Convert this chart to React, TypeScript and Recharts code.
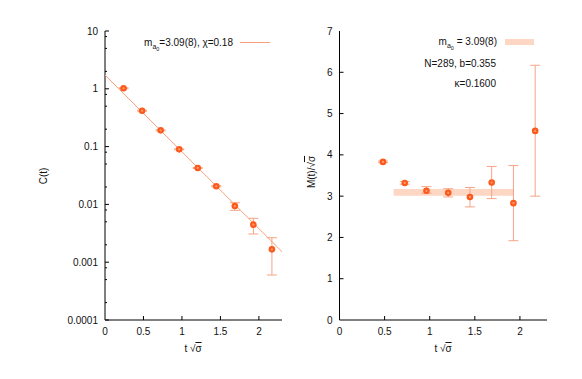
import React from "react";
import { ComposedChart, Scatter, XAxis, YAxis, ErrorBar, ReferenceArea } from "recharts";

const FONT = "'Liberation Sans', Arial, Helvetica, sans-serif";

// Left panel: correlator C(t)
const tValues = [0.241, 0.482, 0.723, 0.964, 1.205, 1.446, 1.687, 1.928, 2.169];
const cValues = [1.02, 0.418, 0.191, 0.0897, 0.0427, 0.0206, 0.00937, 0.00446, 0.00167];
const cLow = [1.0, 0.41, 0.187, 0.088, 0.0418, 0.0201, 0.0079, 0.00308, 0.0006];
const cHigh = [1.04, 0.426, 0.195, 0.0914, 0.0436, 0.0211, 0.0107, 0.00574, 0.00265];
const fitT = [0, 2.3];
const fitC = [1.73, 0.00152];

// Right panel: effective mass M(t)/sqrt(sigma)
const mT = [0.482, 0.723, 0.964, 1.205, 1.446, 1.687, 1.928, 2.169];
const mValues = [3.83, 3.32, 3.13, 3.08, 2.98, 3.33, 2.83, 4.58];
const mLow = [3.81, 3.29, 3.07, 2.98, 2.74, 2.94, 1.92, 3.0];
const mHigh = [3.85, 3.35, 3.23, 3.18, 3.21, 3.72, 3.74, 6.17];
const bandX = [0.6, 1.93];
const bandY = [3.01, 3.17];

// Ticks
const xTicks = [0, 0.5, 1, 1.5, 2];
const xTickLabels = ["0", "0.5", "1", "1.5", "2"];
const cMajor = [0.0001, 0.001, 0.01, 0.1, 1, 10];
const cMajorLabels = ["0.0001", "0.001", "0.01", "0.1", "1", "10"];
const cMinor = [0.0002, 0.0005, 0.0008, 0.002, 0.005, 0.008, 0.02, 0.05, 0.08, 0.2, 0.5, 0.8, 2, 5, 8];
const mTicks = [0, 1, 2, 3, 4, 5, 6, 7];
const mTickLabels = ["0", "1", "2", "3", "4", "5", "6", "7"];

const cData = tValues.map((t, i) => ({ t, v: cValues[i], err: [cValues[i] - cLow[i], cHigh[i] - cValues[i]] }));
const fitData = fitT.map((t, i) => ({ t, v: fitC[i] }));
const mData = mT.map((t, i) => ({ t, v: mValues[i], err: [mValues[i] - mLow[i], mHigh[i] - mValues[i]] }));

const POINT = "#fc5a1c";
const POINT_IN = "#ff9c74";
const ERR = "#f6a386";
const FIT = "#f8a07c";
const BAND = "#fdd6c4";

const near = (a: number, b: number) => Math.abs(a - b) <= Math.abs(b) * 1e-6 + 1e-12;

const labelFrom = (vals: number[], labels: string[]) => (v: number) => {
  const i = vals.findIndex((x) => near(v, x));
  return i >= 0 ? labels[i] : null;
};

const makeTick =
  (side: string, labelFor: (v: number) => string | null, lenFor: (v: number) => number) =>
  (props: any) => {
    const { x, y, payload } = props;
    const v = payload.value;
    const len = lenFor(v);
    const label = labelFor(v);
    const ts = { fontFamily: FONT, fontSize: 10, fill: "#111" };
    if (side === "bottom") {
      return (
        <g>
          <line x1={x} x2={x} y1={y} y2={y - len} stroke="#000" strokeWidth={1} />
          {label !== null && (
            <text x={x} y={y + 15} textAnchor="middle" style={ts}>
              {label}
            </text>
          )}
        </g>
      );
    }
    if (side === "top") {
      return <line x1={x} x2={x} y1={y} y2={y + len} stroke="#000" strokeWidth={1} />;
    }
    if (side === "left") {
      return (
        <g>
          <line x1={x} x2={x + len} y1={y} y2={y} stroke="#000" strokeWidth={1} />
          {label !== null && (
            <text x={x - 7} y={y + 3.5} textAnchor="end" style={ts}>
              {label}
            </text>
          )}
        </g>
      );
    }
    return <line x1={x} x2={x - len} y1={y} y2={y} stroke="#000" strokeWidth={1} />;
  };

const xLabel = labelFrom(xTicks, xTickLabels);
const cLabel = labelFrom(cMajor, cMajorLabels);
const mLabel = labelFrom(mTicks, mTickLabels);
const xLen = (v: number) => (near(v, 0) ? 0 : 4);
const cLen = (v: number) => (cMajor.some((m) => near(v, m)) ? 4 : 2);
const mLen = (v: number) => (near(v, 0) || near(v, 7) ? 0 : 4);
const noLabel = () => null;

const Marker = (props: any) => {
  const { cx, cy } = props;
  if (cx == null || cy == null) return <g />;
  return (
    <g>
      <circle cx={cx} cy={cy} r={3.3} fill={POINT} />
      <circle cx={cx} cy={cy} r={1.1} fill={POINT_IN} />
    </g>
  );
};

const Empty = () => <g />;

const axisLine = { stroke: "#000", strokeWidth: 1 };

export default function App() {
  const cTicks = [...cMajor, ...cMinor].sort((a, b) => a - b);
  return (
    <div style={{ position: "absolute", left: 0, top: 0, width: 582, height: 379, background: "#fff" }}>
      <div style={{ position: "absolute", left: 0, top: 0 }}>
        <ComposedChart width={290} height={379} margin={{ top: 31, right: 8, bottom: 29, left: 45 }}>
          <XAxis
            xAxisId="b"
            dataKey="t"
            type="number"
            domain={[0, 2.3]}
            ticks={xTicks}
            interval={0}
            allowDataOverflow
            height={30}
            tickSize={0}
            tickMargin={0}
            tickLine={false}
            axisLine={axisLine}
            tick={makeTick("bottom", xLabel, xLen)}
          />
          <XAxis
            xAxisId="t"
            orientation="top"
            dataKey="t"
            type="number"
            domain={[0, 2.3]}
            ticks={xTicks}
            interval={0}
            allowDataOverflow
            height={0}
            tickSize={0}
            tickMargin={0}
            tickLine={false}
            axisLine={axisLine}
            tick={makeTick("top", noLabel, xLen)}
          />
          <YAxis
            yAxisId="l"
            dataKey="v"
            type="number"
            scale="log"
            domain={[0.0001, 10]}
            ticks={cTicks}
            interval={0}
            allowDataOverflow
            width={60}
            tickSize={0}
            tickMargin={0}
            tickLine={false}
            axisLine={axisLine}
            tick={makeTick("left", cLabel, cLen)}
          />
          <YAxis
            yAxisId="r"
            orientation="right"
            dataKey="v"
            type="number"
            scale="log"
            domain={[0.0001, 10]}
            ticks={cTicks}
            interval={0}
            allowDataOverflow
            width={0}
            tickSize={0}
            tickMargin={0}
            tickLine={false}
            axisLine={axisLine}
            tick={makeTick("right", noLabel, cLen)}
          />
          <Scatter
            xAxisId="b"
            yAxisId="l"
            data={fitData}
            line={{ stroke: FIT, strokeWidth: 1 }}
            lineType="joint"
            shape={Empty}
            isAnimationActive={false}
          />
          <Scatter xAxisId="b" yAxisId="l" data={cData} shape={Marker} isAnimationActive={false}>
            <ErrorBar dataKey="err" direction="y" width={5} stroke={ERR} strokeWidth={1} isAnimationActive={false} />
          </Scatter>
        </ComposedChart>
      </div>
      <div style={{ position: "absolute", left: 290, top: 0 }}>
        <ComposedChart width={292} height={379} margin={{ top: 31, right: 35, bottom: 29, left: 9.5 }}>
          <XAxis
            xAxisId="b"
            dataKey="t"
            type="number"
            domain={[0, 2.3]}
            ticks={xTicks}
            interval={0}
            allowDataOverflow
            height={30}
            tickSize={0}
            tickMargin={0}
            tickLine={false}
            axisLine={axisLine}
            tick={makeTick("bottom", xLabel, xLen)}
          />
          <XAxis
            xAxisId="t"
            orientation="top"
            dataKey="t"
            type="number"
            domain={[0, 2.3]}
            ticks={xTicks}
            interval={0}
            allowDataOverflow
            height={0}
            tickSize={0}
            tickMargin={0}
            tickLine={false}
            axisLine={axisLine}
            tick={makeTick("top", noLabel, xLen)}
          />
          <YAxis
            yAxisId="l"
            dataKey="v"
            type="number"
            domain={[0, 7]}
            ticks={mTicks}
            interval={0}
            allowDataOverflow
            width={40}
            tickSize={0}
            tickMargin={0}
            tickLine={false}
            axisLine={axisLine}
            tick={makeTick("left", mLabel, mLen)}
          />
          <YAxis
            yAxisId="r"
            orientation="right"
            dataKey="v"
            type="number"
            domain={[0, 7]}
            ticks={mTicks}
            interval={0}
            allowDataOverflow
            width={0}
            tickSize={0}
            tickMargin={0}
            tickLine={false}
            axisLine={axisLine}
            tick={makeTick("right", noLabel, mLen)}
          />
          <ReferenceArea
            xAxisId="b"
            yAxisId="l"
            x1={bandX[0]}
            x2={bandX[1]}
            y1={bandY[0]}
            y2={bandY[1]}
            fill={BAND}
            fillOpacity={1}
            stroke="none"
          />
          <Scatter xAxisId="b" yAxisId="l" data={mData} shape={Marker} isAnimationActive={false}>
            <ErrorBar dataKey="err" direction="y" width={5} stroke={ERR} strokeWidth={1} isAnimationActive={false} />
          </Scatter>
        </ComposedChart>
      </div>
      <svg
        width={582}
        height={379}
        style={{ position: "absolute", left: 0, top: 0, pointerEvents: "none" }}
        fontFamily={FONT}
      >
        {/* left legend */}
        <text x={233} y={45.5} textAnchor="end" fontSize={10} fill="#111">
          m
          <tspan dy={3} fontSize={7}>a</tspan>
          <tspan dy={2} fontSize={5.5}>0</tspan>
          <tspan dy={-5}>=3.09(8), χ=0.18</tspan>
        </text>
        <line x1={240} x2={270} y1={42.5} y2={42.5} stroke={FIT} strokeWidth={1} />
        {/* right legend */}
        <text x={497} y={45} textAnchor="end" fontSize={10} fill="#111">
          m
          <tspan dy={3} fontSize={7}>a</tspan>
          <tspan dy={2} fontSize={5.5}>0</tspan>
          <tspan dy={-5}> = 3.09(8)</tspan>
        </text>
        <rect x={505} y={39} width={29} height={6} fill={BAND} />
        <text x={496} y={66.5} textAnchor="end" fontSize={10} fill="#111">
          N=289, b=0.355
        </text>
        <text x={496} y={86.5} textAnchor="end" fontSize={10} fill="#111">
          κ=0.1600
        </text>
        {/* axis titles */}
        <text x={43} y={176} transform="rotate(-90 43 176)" textAnchor="middle" dominantBaseline="central" fontSize={10} fill="#111">
          C(t)
        </text>
        <text x={311} y={172} transform="rotate(-90 311 172)" textAnchor="middle" dominantBaseline="central" fontSize={10} fill="#111">
          M(t)/√<tspan textDecoration="overline" style={{ textDecoration: "overline" }}>σ</tspan>
        </text>
        <text x={193} y={352} textAnchor="middle" fontSize={10} fill="#111">
          t √<tspan style={{ textDecoration: "overline" }}>σ</tspan>
        </text>
        <text x={443} y={352} textAnchor="middle" fontSize={10} fill="#111">
          t √<tspan style={{ textDecoration: "overline" }}>σ</tspan>
        </text>
      </svg>
    </div>
  );
}
